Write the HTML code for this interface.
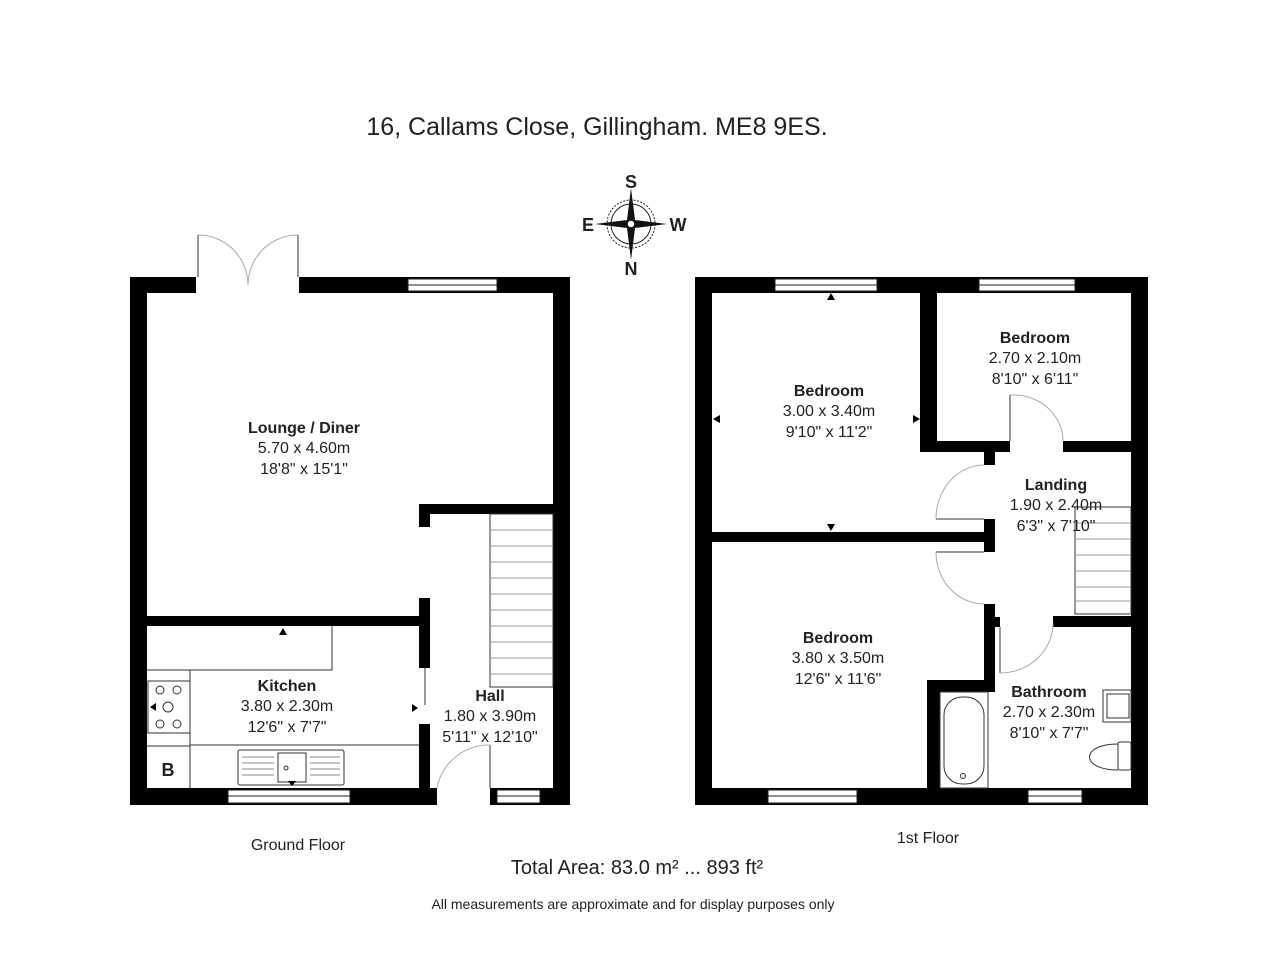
<!DOCTYPE html>
<html><head><meta charset="utf-8"><style>
html,body{margin:0;padding:0;background:#fff}
svg{display:block}
text{font-family:"Liberation Sans",Arial,sans-serif;fill:#222}
.b{font-weight:bold;font-size:16px}
.n{font-size:16px}
</style></head><body>
<svg width="1280" height="960" viewBox="0 0 1280 960" xmlns="http://www.w3.org/2000/svg">
<text x="597" y="135" font-size="25" text-anchor="middle">16, Callams Close, Gillingham. ME8 9ES.</text>

<!-- compass -->
<g transform="translate(631,224)">
<circle r="24" fill="none" stroke="#222" stroke-width="1" stroke-dasharray="2,1.5"/>
<circle r="20" fill="none" stroke="#222" stroke-width="1"/>
<polygon points="0,-36 4,-4 36,0 4,4 0,36 -4,4 -36,0 -4,-4" fill="#111"/>
<circle r="4" fill="#fff" stroke="#111" stroke-width="1.5"/>
</g>
<text x="631" y="188" font-size="18" font-weight="bold" text-anchor="middle">S</text>
<text x="631" y="275" font-size="18" font-weight="bold" text-anchor="middle">N</text>
<text x="588" y="231" font-size="18" font-weight="bold" text-anchor="middle">E</text>
<text x="678" y="231" font-size="18" font-weight="bold" text-anchor="middle">W</text>

<!-- GROUND FLOOR -->
<g fill="#000">
<rect x="130" y="277" width="17" height="528"/>
<rect x="553" y="277" width="17" height="528"/>
<rect x="130" y="277" width="66" height="16"/>
<rect x="299" y="277" width="271" height="16"/>
<rect x="130" y="788" width="307" height="17"/>
<rect x="490" y="788" width="80" height="17"/>
<rect x="147" y="616" width="283" height="10"/>
<rect x="419" y="598" width="11" height="70"/>
<rect x="419" y="724" width="11" height="64"/>
<rect x="419" y="504" width="134" height="10"/>
<rect x="419" y="504" width="11" height="23"/>
</g>
<g fill="#fff" stroke="#222" stroke-width="1">
<rect x="408" y="279" width="89" height="12"/><line x1="408" y1="285" x2="497" y2="285"/>
<rect x="228" y="790" width="122" height="13"/><line x1="228" y1="796" x2="350" y2="796"/>
<rect x="497" y="790" width="43" height="13"/><line x1="497" y1="796" x2="540" y2="796"/>
</g>
<g fill="none" stroke="#333" stroke-width="1">
<line x1="198" y1="235" x2="198" y2="277"/><line x1="298" y1="235" x2="298" y2="277"/>
<path d="M198,235 A50,50 0 0 1 248,285" stroke="#aaa"/>
<path d="M298,235 A50,50 0 0 0 248,285" stroke="#aaa"/>
<line x1="425" y1="668" x2="425" y2="705"/>
<line x1="490" y1="745" x2="490" y2="788"/>
<path d="M437,788 A53,53 0 0 1 490,745" stroke="#aaa"/>
<rect x="490" y="514" width="63" height="173"/>
<g stroke="#999">
<line x1="490" y1="530" x2="553" y2="530"/><line x1="490" y1="546" x2="553" y2="546"/>
<line x1="490" y1="562" x2="553" y2="562"/><line x1="490" y1="578" x2="553" y2="578"/>
<line x1="490" y1="594" x2="553" y2="594"/><line x1="490" y1="610" x2="553" y2="610"/>
<line x1="490" y1="626" x2="553" y2="626"/><line x1="490" y1="642" x2="553" y2="642"/>
<line x1="490" y1="658" x2="553" y2="658"/><line x1="490" y1="674" x2="553" y2="674"/>
</g>
<polyline points="147,670 332,670 332,626"/>
<line x1="190" y1="670" x2="190" y2="788"/>
<line x1="190" y1="745" x2="419" y2="745"/>
<line x1="147" y1="746" x2="190" y2="746"/>
<rect x="148" y="681" width="42" height="52"/>
<circle cx="160" cy="690" r="4"/><circle cx="177" cy="690" r="4"/>
<circle cx="168" cy="707" r="5"/>
<circle cx="160" cy="724" r="4"/><circle cx="177" cy="724" r="4"/>
<rect x="238" y="750" width="106" height="35" rx="2"/>
<rect x="278" y="753" width="28" height="29"/>
<circle cx="286" cy="768" r="2"/>
<g stroke="#888"><line x1="242" y1="757" x2="274" y2="757"/><line x1="242" y1="763" x2="274" y2="763"/><line x1="242" y1="769" x2="274" y2="769"/><line x1="242" y1="775" x2="274" y2="775"/>
<line x1="310" y1="757" x2="340" y2="757"/><line x1="310" y1="763" x2="340" y2="763"/><line x1="310" y1="769" x2="340" y2="769"/><line x1="310" y1="775" x2="340" y2="775"/></g>
</g>
<polygon points="283,628 279,635 287,635" fill="#000"/>
<polygon points="150,707 156,703 156,711" fill="#000"/>
<polygon points="418,708 412,704 412,712" fill="#000"/>
<polygon points="292,786 288,781 296,781" fill="#000"/>
<text x="168" y="776" font-size="18" font-weight="bold" text-anchor="middle">B</text>

<text class="b" x="304" y="433" text-anchor="middle">Lounge / Diner</text>
<text class="n" x="304" y="453" text-anchor="middle">5.70 x 4.60m</text>
<text class="n" x="304" y="474" text-anchor="middle">18'8" x 15'1"</text>
<text class="b" x="287" y="691" text-anchor="middle">Kitchen</text>
<text class="n" x="287" y="711" text-anchor="middle">3.80 x 2.30m</text>
<text class="n" x="287" y="732" text-anchor="middle">12'6" x 7'7"</text>
<text class="b" x="490" y="701" text-anchor="middle">Hall</text>
<text class="n" x="490" y="721" text-anchor="middle">1.80 x 3.90m</text>
<text class="n" x="490" y="742" text-anchor="middle">5'11" x 12'10"</text>

<!-- FIRST FLOOR -->
<g fill="#000">
<rect x="695" y="277" width="17" height="528"/>
<rect x="1131" y="277" width="17" height="528"/>
<rect x="695" y="277" width="453" height="16"/>
<rect x="695" y="788" width="453" height="17"/>
<rect x="920" y="293" width="17" height="158"/>
<rect x="920" y="441" width="90" height="11"/>
<rect x="1063" y="441" width="68" height="11"/>
<rect x="984" y="452" width="11" height="13"/>
<rect x="712" y="532" width="272" height="10"/>
<rect x="984" y="519" width="11" height="33"/>
<rect x="984" y="604" width="11" height="86"/>
<rect x="995" y="617" width="5" height="10"/>
<rect x="927" y="680" width="68" height="12"/>
<rect x="927" y="680" width="13" height="108"/>
<rect x="1053" y="616" width="78" height="11"/>
</g>
<g fill="#fff" stroke="#222" stroke-width="1">
<rect x="775" y="279" width="102" height="12"/><line x1="775" y1="285" x2="877" y2="285"/>
<rect x="979" y="279" width="96" height="12"/><line x1="979" y1="285" x2="1075" y2="285"/>
<rect x="768" y="790" width="89" height="13"/><line x1="768" y1="796" x2="857" y2="796"/>
<rect x="1028" y="790" width="54" height="13"/><line x1="1028" y1="796" x2="1082" y2="796"/>
</g>
<g fill="none" stroke="#333" stroke-width="1">
<line x1="1010" y1="395" x2="1010" y2="441"/>
<path d="M1010,395 A50,46 0 0 1 1063,441" stroke="#aaa"/>
<line x1="936" y1="519" x2="984" y2="519"/>
<path d="M936,519 A48,54 0 0 1 984,465" stroke="#aaa"/>
<line x1="936" y1="552" x2="984" y2="552"/>
<path d="M936,552 A48,52 0 0 0 984,604" stroke="#aaa"/>
<line x1="1000" y1="627" x2="1000" y2="673"/>
<path d="M1000,673 A53,50 0 0 0 1053,623" stroke="#aaa"/>
<rect x="1075" y="507" width="56" height="107"/>
<g stroke="#999">
<line x1="1075" y1="523" x2="1131" y2="523"/><line x1="1075" y1="539" x2="1131" y2="539"/>
<line x1="1075" y1="555" x2="1131" y2="555"/><line x1="1075" y1="571" x2="1131" y2="571"/>
<line x1="1075" y1="587" x2="1131" y2="587"/><line x1="1075" y1="601" x2="1131" y2="601"/>
</g>
<rect x="940" y="692" width="48" height="96"/>
<rect x="944" y="697" width="40" height="87" rx="18"/>
<circle cx="963" cy="776" r="2.5"/>
<rect x="1103" y="690" width="28" height="32"/>
<rect x="1107" y="694" width="22" height="24"/>
<rect x="1118" y="742" width="13" height="28" rx="2"/>
<path d="M1118,744 C1080,744 1080,770 1118,770"/>
</g>
<polygon points="831,293 827,300 835,300" fill="#000"/>
<polygon points="831,531 827,524 835,524" fill="#000"/>
<polygon points="713,419 720,415 720,423" fill="#000"/>
<polygon points="920,419 913,415 913,423" fill="#000"/>

<text class="b" x="829" y="396" text-anchor="middle">Bedroom</text>
<text class="n" x="829" y="416" text-anchor="middle">3.00 x 3.40m</text>
<text class="n" x="829" y="437" text-anchor="middle">9'10" x 11'2"</text>
<text class="b" x="1035" y="343" text-anchor="middle">Bedroom</text>
<text class="n" x="1035" y="363" text-anchor="middle">2.70 x 2.10m</text>
<text class="n" x="1035" y="384" text-anchor="middle">8'10" x 6'11"</text>
<text class="b" x="1056" y="490" text-anchor="middle">Landing</text>
<text class="n" x="1056" y="510" text-anchor="middle">1.90 x 2.40m</text>
<text class="n" x="1056" y="531" text-anchor="middle">6'3" x 7'10"</text>
<text class="b" x="838" y="643" text-anchor="middle">Bedroom</text>
<text class="n" x="838" y="663" text-anchor="middle">3.80 x 3.50m</text>
<text class="n" x="838" y="684" text-anchor="middle">12'6" x 11'6"</text>
<text class="b" x="1049" y="697" text-anchor="middle">Bathroom</text>
<text class="n" x="1049" y="717" text-anchor="middle">2.70 x 2.30m</text>
<text class="n" x="1049" y="738" text-anchor="middle">8'10" x 7'7"</text>

<text x="298" y="850" font-size="16" text-anchor="middle">Ground Floor</text>
<text x="928" y="843" font-size="16" text-anchor="middle">1st Floor</text>
<text x="637" y="874" font-size="20" text-anchor="middle">Total Area: 83.0 m² ... 893 ft²</text>
<text x="633" y="909" font-size="14" text-anchor="middle">All measurements are approximate and for display purposes only</text>
</svg>
</body></html>
